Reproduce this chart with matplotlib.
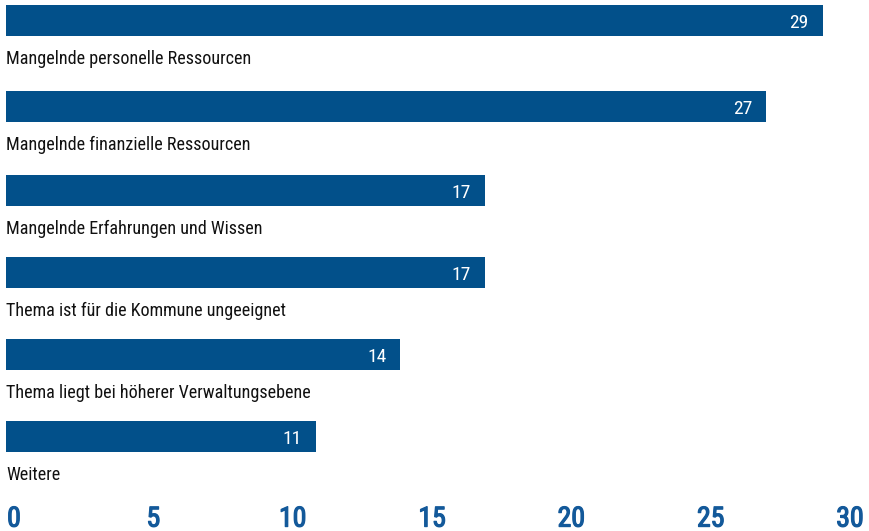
import matplotlib
matplotlib.use("Agg")
import matplotlib.pyplot as plt
import matplotlib.patheffects as pe
from matplotlib import font_manager

# Hindernisse / Gruende, Angaben in absoluten Nennungen
categories = [
    "Mangelnde personelle Ressourcen",
    "Mangelnde finanzielle Ressourcen",
    "Mangelnde Erfahrungen und Wissen",
    "Thema ist für die Kommune ungeeignet",
    "Thema liegt bei höherer Verwaltungsebene",
    "Weitere",
]
values = [29, 27, 17, 17, 14, 11]
xticks = [0, 5, 10, 15, 20, 25, 30]

BAR_COLOR = "#02508a"
TICK_COLOR = "#13599a"

# pick a narrow font if one is there
names = set(f.name for f in font_manager.fontManager.ttflist)
family = "DejaVu Sans"
for cand in ["Liberation Sans Narrow", "DejaVu Sans Condensed", "Roboto Condensed"]:
    if cand in names:
        family = cand
        break
plt.rcParams["font.family"] = [family, "DejaVu Sans"]

W, H = 870, 531
fig = plt.figure(figsize=(W / 100, H / 100), dpi=100)
# axes in pixel units: x 0 sits at 6px, 30 at 851px, y runs 0..500 px from the top
ax = fig.add_axes([6 / W, 31 / H, 845 / W, 500 / H])
ax.set_xlim(0, 30)
ax.set_ylim(500, 0)

# bar rows are not quite evenly spaced in the original
bar_h = 31
tops = [5, 91, 175, 257, 339, 421]
centers = [t + bar_h / 2 for t in tops]

ax.barh(centers, values, height=bar_h, color=BAR_COLOR, align="center")

for c, v, lab in zip(centers, values, categories):
    bottom = c + bar_h / 2
    ax.annotate(str(v), xy=(v, bottom - 7.5), xytext=(-14, 0),
                textcoords="offset pixels", ha="right", va="baseline",
                color="white", fontsize=14)
    ax.text(0, bottom + 28, lab, ha="left", va="baseline",
            color="#111111", fontsize=13.1)

ax.set_xticks([])
ax.set_yticks([])
for s in ax.spines.values():
    s.set_visible(False)

# the scale labels sit a little offset from the bars in the original
tax = fig.add_axes([14 / W, 31 / H, 836 / W, 500 / H])
tax.patch.set_visible(False)
tax.set_xlim(0, 30)
tax.set_xticks(xticks)
tax.set_xticklabels([str(t) for t in xticks])
tax.tick_params(axis="x", length=0, pad=4, labelsize=20, labelcolor=TICK_COLOR)
for t in tax.get_xticklabels():
    # medium weight: regular glyph with a thin outline
    t.set_path_effects([pe.withStroke(linewidth=0.9, foreground=TICK_COLOR)])
tax.set_yticks([])
for s in tax.spines.values():
    s.set_visible(False)

fig.savefig("out.png", dpi=100)
